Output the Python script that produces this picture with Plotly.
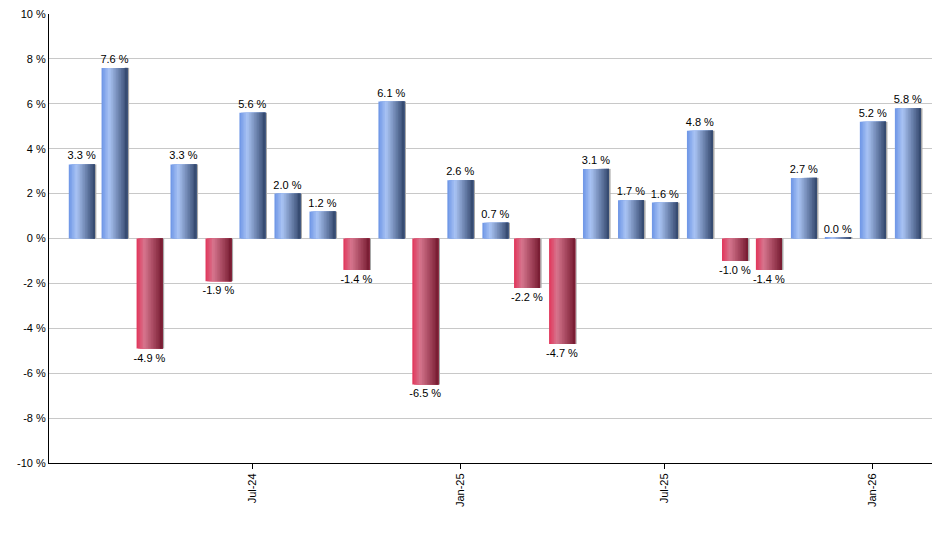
import plotly.graph_objects as go

# monthly returns
months = [
    "2024-02-01", "2024-03-01", "2024-04-01", "2024-05-01", "2024-06-01",
    "2024-07-01", "2024-08-01", "2024-09-01", "2024-10-01", "2024-11-01",
    "2024-12-01", "2025-01-01", "2025-02-01", "2025-03-01", "2025-04-01",
    "2025-05-01", "2025-06-01", "2025-07-01", "2025-08-01", "2025-09-01",
    "2025-10-01", "2025-11-01", "2025-12-01", "2026-01-01", "2026-02-01",
]
returns = [
    3.3, 7.6, -4.9, 3.3, -1.9,
    5.6, 2.0, 1.2, -1.4, 6.1,
    -6.5, 2.6, 0.7, -2.2, -4.7,
    3.1, 1.7, 1.6, 4.8, -1.0,
    -1.4, 2.7, 0.04, 5.2, 5.8,
]
y_ticks = [-10, -8, -6, -4, -2, 0, 2, 4, 6, 8, 10]

DAY = 86400000
bar_w = 23 * DAY
n_slices = 16

# gradient stops (position, rgb) for the cylinder look
blue_stops = [(0.0, (108, 148, 230)), (0.3, (170, 196, 244)), (1.0, (50, 70, 108))]
red_stops = [(0.0, (226, 52, 90)), (0.3, (214, 118, 142)), (1.0, (118, 26, 48))]


def grad(stops, t):
    for (p0, c0), (p1, c1) in zip(stops[:-1], stops[1:]):
        if p0 <= t <= p1:
            f = (t - p0) / (p1 - p0)
            c = [round(a + (b - a) * f) for a, b in zip(c0, c1)]
            return "rgb(%d,%d,%d)" % tuple(c)
    return "rgb(%d,%d,%d)" % stops[-1][1]


fig = go.Figure()

# small grey shadow on the right side of each bar
fig.add_trace(
    go.Bar(
        x=months,
        y=returns,
        width=1.6 * DAY,
        offset=bar_w / 2 - 0.2 * DAY,
        marker=dict(color="#a8a8a8", line=dict(width=0)),
        hoverinfo="skip",
        showlegend=False,
    )
)

# bars drawn as overlapping slices to fake the gradient
# (each slice runs to the right edge, so there are no seams)
slice_w = bar_w / n_slices
for k in range(n_slices):
    t = (k + 0.5) / n_slices
    colors = [grad(blue_stops if v >= 0 else red_stops, t) for v in returns]
    fig.add_trace(
        go.Bar(
            x=months,
            y=returns,
            width=bar_w - k * slice_w,
            offset=-bar_w / 2 + k * slice_w,
            marker=dict(color=colors, line=dict(width=0)),
            hoverinfo="skip",
            showlegend=False,
        )
    )

# value labels
fig.add_trace(
    go.Bar(
        x=months,
        y=returns,
        width=bar_w,
        offset=-bar_w / 2,
        marker=dict(color="rgba(0,0,0,0)", line=dict(width=0)),
        text=["%.1f %%" % v for v in returns],
        textposition="outside",
        constraintext="none",
        textfont=dict(family="Liberation Sans, Arial", size=11, color="#000"),
        cliponaxis=False,
        showlegend=False,
    )
)

# page body has an 8px margin, so the figure is a bit smaller than the window
fig.update_layout(
    width=932,
    height=542,
    barmode="overlay",
    plot_bgcolor="white",
    paper_bgcolor="white",
    margin=dict(l=41, r=5, t=6, b=87),
    font=dict(family="Liberation Sans, Arial", size=11, color="#000"),
    showlegend=False,
)

fig.update_xaxes(
    type="date",
    range=["2024-01-03", "2026-02-25"],
    tick0="2024-01-01",
    dtick="M6",
    tickformat="%b-%y",
    tickangle=-90,
    ticks="outside",
    ticklen=5,
    tickcolor="#000",
    showline=True,
    linecolor="#000",
    linewidth=1,
    showgrid=False,
    zeroline=False,
    automargin=False,
)
fig.update_yaxes(
    range=[-10, 10],
    tickvals=y_ticks,
    ticktext=["%d %%" % v for v in y_ticks],
    ticks="",
    ticklabeloverflow="allow",
    showline=True,
    linecolor="#000",
    linewidth=1,
    showgrid=True,
    gridcolor="#c8c8c8",
    gridwidth=1,
    zeroline=False,
    automargin=False,
)

fig.write_html("out.html")
